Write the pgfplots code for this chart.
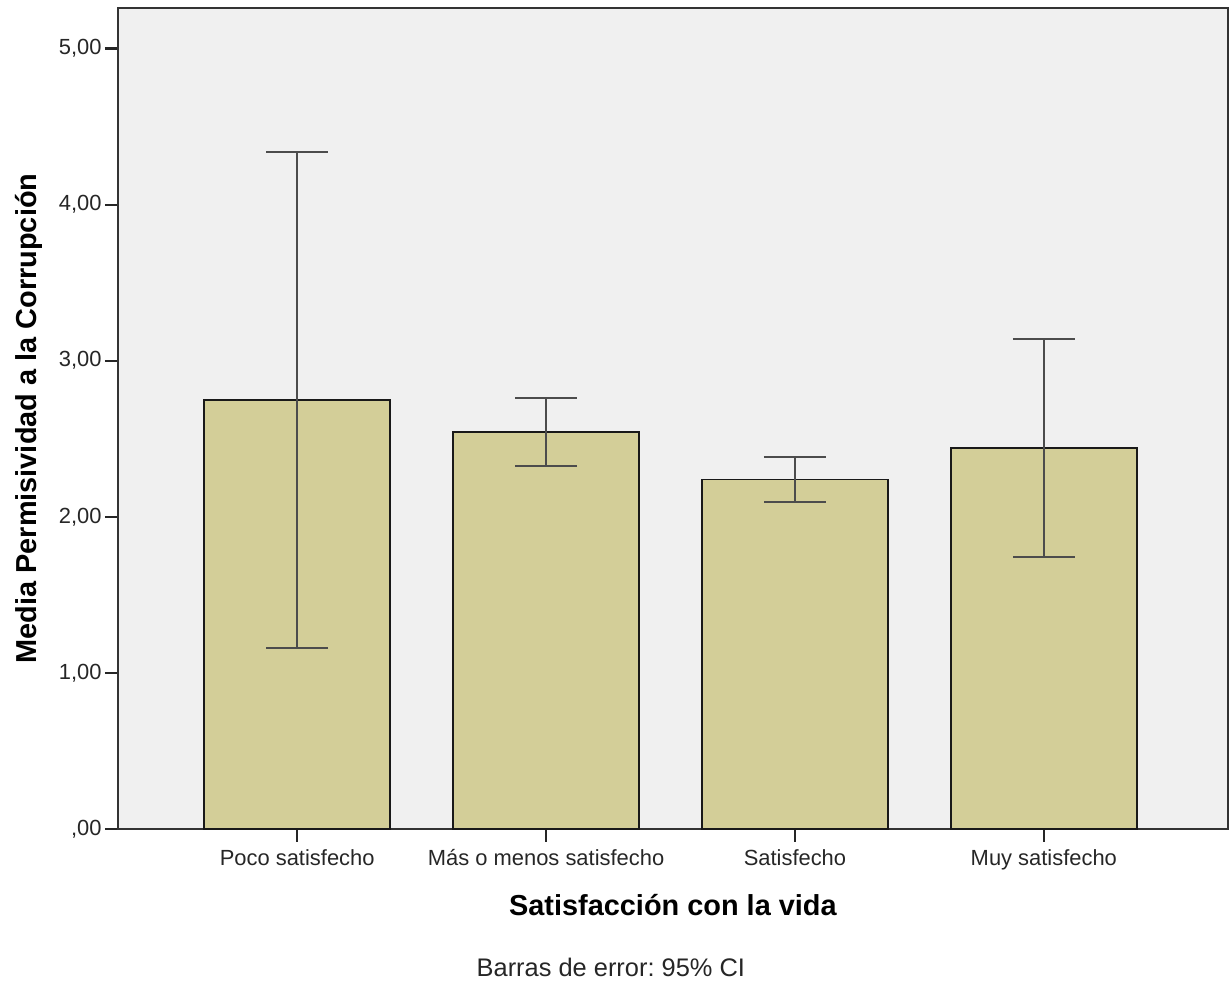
\documentclass[border=0pt]{standalone}
\usepackage{pgfplots}
\pgfplotsset{compat=1.18}
\usepackage{fontspec}
\setmainfont{Liberation Sans}
\frenchspacing
\definecolor{bgcol}{RGB}{240,240,240}
\definecolor{barcol}{RGB}{211,206,152}
\begin{document}
\begin{tikzpicture}
\begin{axis}[
  name=ax,
  scale only axis,
  width=555bp, height=410.5bp,
  xmin=-0.72, xmax=3.74,
  ymin=0, ymax=5.26,
  axis background/.style={fill=bgcol},
  axis line style={black!80, line width=1.1bp},
  tick align=outside,
  major tick length=6.5bp,
  tick style={black!85, line width=1.1bp},
  xtick pos=lower, ytick pos=left,
  xtick={0,1,2,3},
  xticklabels={Poco satisfecho, Más o menos satisfecho, Satisfecho, Muy satisfecho},
  ytick={0,1,2,3,4,5},
  yticklabels={{,00},{1,00},{2,00},{3,00},{4,00},{5,00}},
  ticklabel style={font=\fontsize{11}{13}\selectfont, text=black!85},
  xticklabel style={inner sep=1.5bp, yshift=-2bp},
  yticklabel style={inner sep=1.5bp},
  xlabel={\textbf{Satisfacción con la vida}},
  ylabel={\textbf{Media Permisividad a la Corrupción}},
  label style={font=\fontsize{14.5}{16}\selectfont},
  xlabel style={at={(axis description cs:0.5,0)}, anchor=base, yshift=-43.5bp},
  ylabel style={at={(axis description cs:0,0.5)}, anchor=center, yshift=44.5bp},
  ybar, bar width=93bp,
  clip=false,
]
\addplot[fill=barcol, draw=black!90, line width=0.8bp,
  error bars/.cd, y dir=both, y explicit,
  error bar style={draw=black!70, line width=1bp},
  error mark options={rotate=90, draw=black!70, line width=1bp, mark size=15.5bp}]
  table[x=x, y=y, y error=e] {
x y e
0 2.750 1.590
1 2.545 0.218
2 2.240 0.142
3 2.442 0.697
};
\node[anchor=base, font=\fontsize{12.75}{14}\selectfont, text=black!85] at (axis description cs:0.444,0) [yshift=-74bp] {Barras de error: 95\% CI};
\end{axis}
\path ([shift={(-59bp,-77bp)}]ax.south west) rectangle ([shift={(1bp,4bp)}]ax.north east);
\end{tikzpicture}
\end{document}
